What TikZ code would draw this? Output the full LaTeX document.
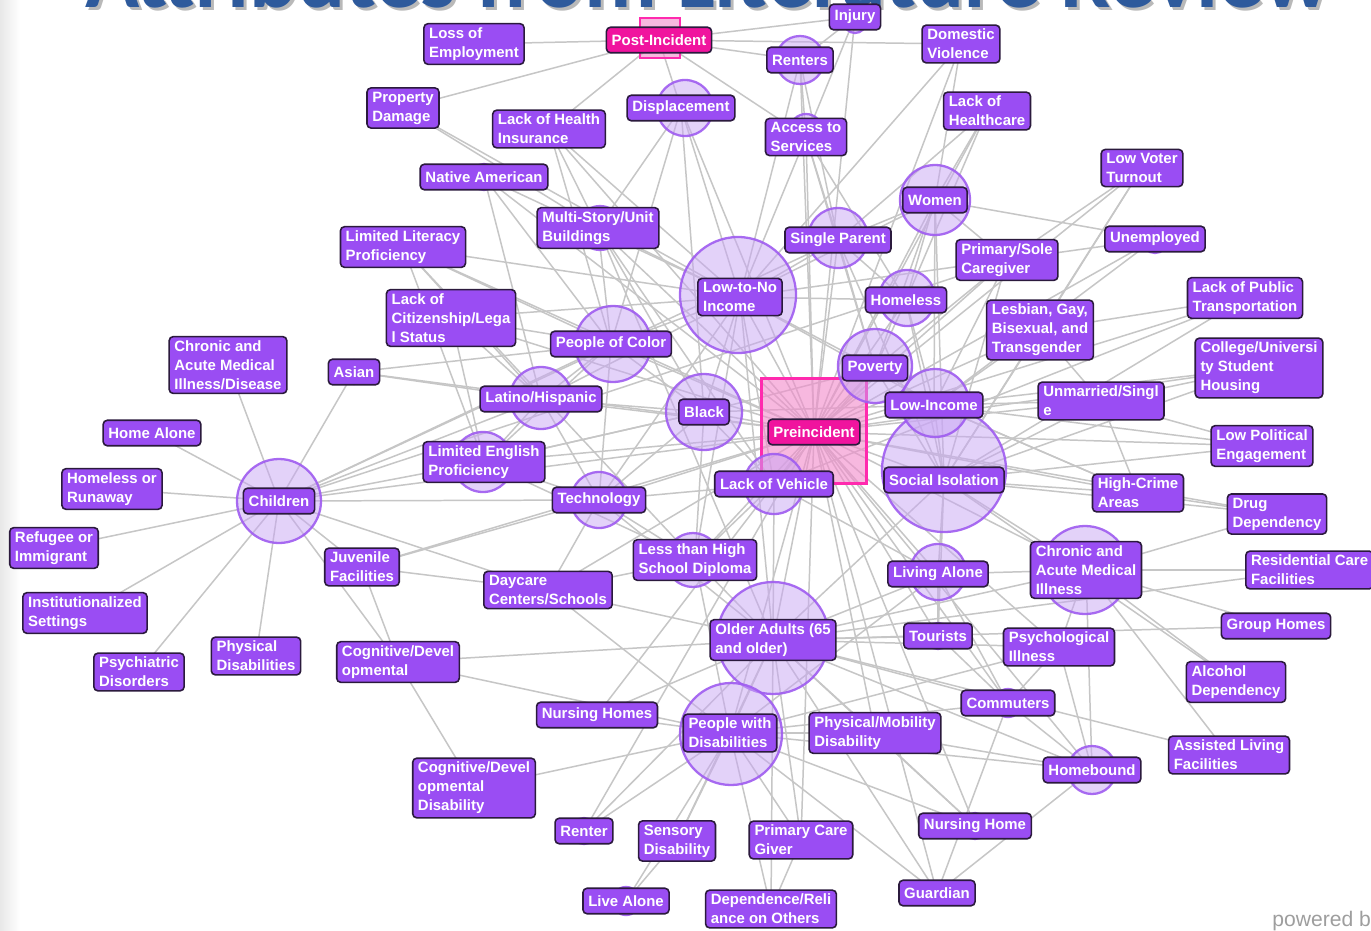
\documentclass[tikz,border=0pt]{standalone}
\usepackage{fontspec}
\setmainfont{Liberation Sans}
\newfontfamily\titlefont{Carlito}
\usepackage{graphicx}

\definecolor{lblfill}{HTML}{9A4DF3}
\definecolor{lblline}{HTML}{2B1A3D}
\definecolor{hubfill}{HTML}{F0149E}
\definecolor{blobfill}{HTML}{C9A6F5}
\definecolor{blobline}{HTML}{9F5CF0}
\definecolor{sqfill}{HTML}{F28ACB}
\definecolor{sqline}{HTML}{FF2AAE}
\definecolor{linkgray}{HTML}{C6C6C6}
\definecolor{titleblue}{HTML}{2E5A9C}

\pgfdeclarelayer{canvas}
\pgfdeclarelayer{links}
\pgfdeclarelayer{blobs}
\pgfsetlayers{canvas,links,blobs,main}

\tikzset{
  lbl/.style={draw=lblline, fill=lblfill, line width=0.9pt, rounded corners=2.3pt,
    text=white, font=\bfseries\fontsize{8.5}{10.8}\selectfont, align=left,
    inner xsep=3pt, inner ysep=2.2pt, minimum height=14.5pt},
  hub/.style={lbl, fill=hubfill},
  blob/.style={circle, draw=blobline, fill=blobfill, fill opacity=0.5,
    draw opacity=0.9, line width=1.3pt, inner sep=0pt},
  sq/.style={rectangle, draw=sqline, fill=sqfill, fill opacity=0.6,
    line width=1.3pt, inner sep=0pt},
  link/.style={draw=linkgray, line width=0.85pt},
}

\begin{document}
\begin{tikzpicture}[x=0.02cm, y=-0.02cm]
\useasboundingbox (0,0) rectangle (1371,930);
\begin{pgfonlayer}{canvas}
  \fill[white] (0,0) rectangle (1371,930);
  \shade[left color=black!9, right color=white] (0,0) rectangle (20,930);
\end{pgfonlayer}
\clip (0,0) rectangle (1371,930);

% heading, only its lower edge falls inside the frame
\node[anchor=base west, inner sep=0pt, text=black!50, opacity=0.55] (titleshadow) at (88,10)
  {\resizebox{24.9cm}{!}{\titlefont\bfseries Attributes from Literature Review}};
\node[anchor=base west, inner sep=0pt, text=titleblue] (title) at (85,7)
  {\resizebox{24.9cm}{!}{\titlefont\bfseries Attributes from Literature Review}};

% attribute labels
\node[lbl] (loe) at (474,44) {Loss of\\Employment};
\node[hub] (post) at (659,40) {Post-Incident};
\node[lbl] (inj) at (855,17) {Injury};
\node[lbl] (dv) at (961,44) {Domestic\\Violence};
\node[lbl] (rent) at (800,60) {Renters};
\node[lbl] (disp) at (681,108) {Displacement};
\node[lbl] (pd) at (403,108) {Property\\Damage};
\node[lbl] (lhi) at (549,129) {Lack of Health\\Insurance};
\node[lbl] (acc) at (806,137) {Access to\\Services};
\node[lbl] (lhc) at (987,111) {Lack of\\Healthcare};
\node[lbl] (nat) at (484,177) {Native American};
\node[lbl] (lvt) at (1142,168) {Low Voter\\Turnout};
\node[lbl] (wom) at (935,200) {Women};
\node[lbl] (msu) at (598,228) {Multi-Story/Unit\\Buildings};
\node[lbl] (sp) at (838,240) {Single Parent};
\node[lbl] (unemp) at (1155,239) {Unemployed};
\node[lbl] (llp) at (403,247) {Limited Literacy\\Proficiency};
\node[lbl] (psc) at (1007,260) {Primary/Sole\\Caregiver};
\node[lbl] (lni) at (740,297) {Low-to-No\\Income};
\node[lbl] (hless) at (906,300) {Homeless};
\node[lbl] (lpt) at (1245,298) {Lack of Public\\Transportation};
\node[lbl] (lcs) at (451,318) {Lack of\\Citizenship/Lega\\l Status};
\node[lbl] (lgbt) at (1040,330) {Lesbian, Gay,\\Bisexual, and\\Transgender};
\node[lbl] (csh) at (1259,368) {College/Universi\\ty Student\\Housing};
\node[lbl] (cami) at (228,365) {Chronic and\\Acute Medical\\Illness/Disease};
\node[lbl] (poc) at (611,344) {People of Color};
\node[lbl] (asian) at (354,372) {Asian};
\node[lbl] (pov) at (875,368) {Poverty};
\node[lbl] (unm) at (1101,401) {Unmarried/Singl\\e};
\node[lbl] (lat) at (541,399) {Latino/Hispanic};
\node[lbl] (lowinc) at (934,405) {Low-Income};
\node[lbl] (black) at (704,412) {Black};
\node[hub] (pre) at (814,432) {Preincident};
\node[lbl] (homealone) at (152,433) {Home Alone};
\node[lbl] (lpe) at (1262,446) {Low Political\\Engagement};
\node[lbl] (lep) at (484,462) {Limited English\\Proficiency};
\node[lbl] (soc) at (944,480) {Social Isolation};
\node[lbl] (hca) at (1138,493) {High-Crime\\Areas};
\node[lbl] (hor) at (112,489) {Homeless or\\Runaway};
\node[lbl] (child) at (279,501) {Children};
\node[lbl] (lov) at (774,484) {Lack of Vehicle};
\node[lbl] (tech) at (599,500) {Technology};
\node[lbl] (drug) at (1277,514) {Drug\\Dependency};
\node[lbl] (ref) at (54,548) {Refugee or\\Immigrant};
\node[lbl] (juv) at (362,567) {Juvenile\\Facilities};
\node[lbl] (lths) at (695,560) {Less than High\\School Diploma};
\node[lbl] (cam) at (1086,570) {Chronic and\\Acute Medical\\Illness};
\node[lbl] (liva) at (938,574) {Living Alone};
\node[lbl] (day) at (548,590) {Daycare\\Centers/Schools};
\node[lbl, anchor=west] (rcf) at (1245,570) {Residential Care\\Facilities};
\node[lbl] (inst) at (85,613) {Institutionalized\\Settings};
\node[lbl] (old) at (773,640) {Older Adults (65\\and older)};
\node[lbl] (tour) at (938,636) {Tourists};
\node[lbl] (grp) at (1276,626) {Group Homes};
\node[lbl] (psy) at (1059,647) {Psychological\\Illness};
\node[lbl] (phd) at (256,656) {Physical\\Disabilities};
\node[lbl] (psyd) at (139,672) {Psychiatric\\Disorders};
\node[lbl] (cogd) at (398,662) {Cognitive/Devel\\opmental};
\node[lbl] (alc) at (1236,682) {Alcohol\\Dependency};
\node[lbl] (comm) at (1008,703) {Commuters};
\node[lbl] (nhs) at (597,715) {Nursing Homes};
\node[lbl] (pwd) at (730,733) {People with\\Disabilities};
\node[lbl] (pmd) at (875,733) {Physical/Mobility\\Disability};
\node[lbl] (alf) at (1229,755) {Assisted Living\\Facilities};
\node[lbl] (hb) at (1092,770) {Homebound};
\node[lbl] (cdd) at (474,788) {Cognitive/Devel\\opmental\\Disability};
\node[lbl] (renter) at (584,831) {Renter};
\node[lbl] (sens) at (677,841) {Sensory\\Disability};
\node[lbl] (pcg) at (801,840) {Primary Care\\Giver};
\node[lbl] (nh) at (975,826) {Nursing Home};
\node[lbl] (lalone) at (626,901) {Live Alone};
\node[lbl] (dep) at (771,909) {Dependence/Reli\\ance on Others};
\node[lbl] (guard) at (937,893) {Guardian};

\node[anchor=base west, inner sep=0pt, text=black!38, font=\fontsize{12}{14}\selectfont] (powered) at (1272,926) {powered b};

% weight circles and category squares
\begin{pgfonlayer}{blobs}
  \node[sq, minimum size=2.1cm] (presq) at (814,431) {};
  \node[sq, minimum size=0.8cm] (postsq) at (660,38) {};
  \foreach \nm/\x/\y/\r in {
    b1/738/295/58, b2/944/470/62, b3/773/638/56, b4/731/734/51,
    b5/1085/570/44, b6/279/501/42, b7/613/344/38, b8/704/412/38,
    b9/875/366/37, b10/935/200/35, b11/935/403/34, b12/541/398/31,
    b13/483/462/30, b14/774/484/30, b15/838/238/30, b16/907/298/28,
    b17/599/500/28, b18/685/108/28, b19/938/572/28, b20/693/560/27,
    b21/800/60/24, b22/1092/770/24, b23/600/228/22, b24/806/130/16,
    b25/484/177/13, b26/1155/240/13, b27/354/372/12, b28/938/636/13,
    b29/1008/703/14, b30/975/826/13, b31/584/831/13, b32/626/901/14,
    b33/855/22/11}
    \node[blob, minimum size=2*\r*0.02cm] (\nm) at (\x,\y) {};
\end{pgfonlayer}

% relations between attributes
\begin{pgfonlayer}{links}
\foreach \a/\b in {
  post/loe, post/pd, post/disp, post/acc, post/inj, post/dv, post/lhi, post/rent,
  inj/rent, inj/acc, inj/pre, rent/acc, rent/lni, rent/pre, rent/sp,
  dv/wom, dv/lni, dv/pre, lhc/wom, lhc/pre, lhc/sp, lhc/hless,
  disp/lni, disp/pre, disp/poc, disp/msu, disp/black,
  acc/lni, acc/pre, acc/sp, acc/hless, acc/pov,
  pd/lni, pd/msu, lhi/msu, lhi/pre, lhi/lni, lhi/poc,
  nat/pre, nat/lat, nat/poc, nat/lni,
  lvt/psc, lvt/lgbt, lvt/pre, lvt/soc,
  unemp/pre, unemp/lni, unemp/lowinc, unemp/wom,
  wom/sp, wom/pre, wom/psc, wom/pov, wom/lowinc, wom/soc, wom/lni, wom/hless,
  msu/pre, msu/lni, msu/poc, msu/black, msu/old, msu/lov,
  sp/pre, sp/lni, sp/pov, sp/hless, sp/child, sp/soc,
  llp/pre, llp/lni, llp/poc, llp/lep, llp/lat, llp/lths,
  psc/pre, psc/soc, psc/pov, psc/lowinc, psc/child,
  lni/poc, lni/black, lni/lat, lni/pre, lni/pov, lni/hless, lni/lowinc,
  lni/lov, lni/lths, lni/tech, lni/old,
  hless/pre, hless/pov, hless/soc, hless/lowinc,
  lpt/pre, lpt/lgbt, lpt/soc, lpt/lov,
  lcs/pre, lcs/lat, lcs/poc, lcs/lep, lcs/lni,
  lgbt/pre, lgbt/soc, lgbt/lowinc, lgbt/unm,
  csh/pre, csh/unm, csh/soc, csh/lowinc,
  cami/child, poc/pre, poc/lat, poc/black, poc/lep, poc/tech, poc/asian, poc/child,
  asian/pre, asian/lat, asian/child,
  pov/pre, pov/lowinc, pov/soc, pov/black, pov/lov,
  unm/pre, unm/soc, unm/lowinc, unm/hca,
  lat/pre, lat/lep, lat/black, lat/tech, lat/child,
  lowinc/pre, lowinc/soc, lowinc/black, lowinc/hca,
  black/pre, black/lov, black/lths, black/tech, black/lep,
  homealone/child, lpe/pre, lpe/soc, lpe/lowinc, lpe/unm,
  lep/pre, lep/child, lep/tech, lep/black, lep/lths,
  soc/pre, soc/hca, soc/drug, soc/liva, soc/cam, soc/old, soc/tour,
  hca/pre, hca/drug, hca/lowinc, hor/child,
  child/pre, child/tech, child/ref, child/inst, child/psyd, child/phd,
  child/juv, child/day, child/cogd,
  lov/pre, lov/old, lov/lths, lov/liva, lov/tech,
  tech/pre, tech/old, tech/lths, tech/day,
  drug/cam, drug/pre, juv/pre, juv/tech, juv/day, juv/cogd,
  lths/pre, lths/old, lths/pwd, lths/day,
  cam/pre, cam/rcf, cam/grp, cam/alc, cam/alf, cam/psy, cam/hb, cam/liva, cam/old,
  liva/pre, liva/old, liva/pwd, liva/tour, liva/comm,
  day/pre, day/old, day/pwd, rcf/old,
  old/pre, old/pwd, old/pmd, old/tour, old/nhs, old/comm, old/hb, old/alf,
  old/grp, old/nh, old/pcg, old/psy,
  tour/pre, tour/comm, psy/pre, psy/hb, psy/comm, psy/pwd,
  cogd/cdd, cogd/pwd, cogd/old, alc/soc,
  comm/pre, comm/pwd, comm/hb, comm/guard,
  nhs/pwd, nhs/pre, pwd/pre, pwd/pmd, pwd/cdd, pwd/renter, pwd/sens, pwd/pcg,
  pwd/dep, pwd/lalone, pwd/guard, pwd/nh, pwd/hb,
  pmd/pre, pmd/hb, pmd/nh, hb/pre, hb/guard,
  renter/old, renter/pre, sens/lalone, sens/old, pcg/dep, pcg/pre,
  nh/pre, dep/old, guard/old, guard/pre}
  \draw[link] (\a.center) -- (\b.center);
\end{pgfonlayer}
\end{tikzpicture}
\end{document}
